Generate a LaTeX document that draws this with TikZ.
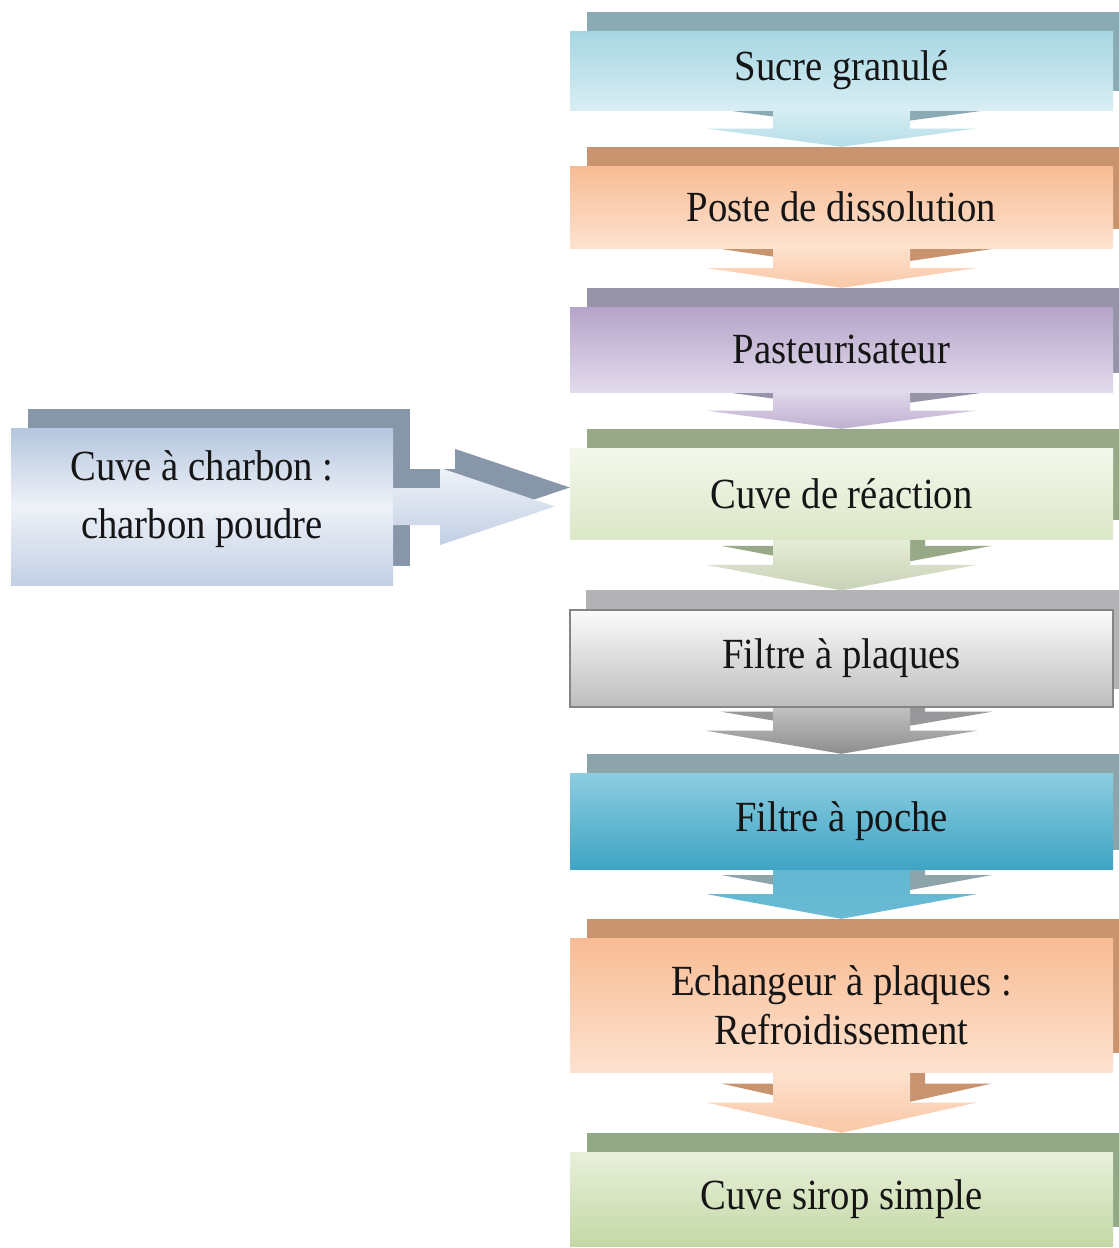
\documentclass[tikz,border=0pt]{standalone}
\usepackage{fontspec}
\setmainfont[FakeStretch=0.9]{Liberation Serif}
\usetikzlibrary{calc}
\pgfdeclarelayer{bg}
\pgfdeclarelayer{mid}
\pgfsetlayers{bg,mid,main}

\definecolor{txt}{HTML}{151515}
% stage 1 blue
\definecolor{aT}{HTML}{A6D6E2}\definecolor{aB}{HTML}{D8EEF4}\definecolor{aK}{HTML}{8AABB3}
% peach
\definecolor{pT}{HTML}{F8BC94}\definecolor{pB}{HTML}{FDE2CF}\definecolor{pK}{HTML}{C8946F}
% lavender
\definecolor{lT}{HTML}{B5A5CA}\definecolor{lB}{HTML}{E2DAEC}\definecolor{lK}{HTML}{9794A8}
% light green
\definecolor{gT}{HTML}{F4F8EC}\definecolor{gB}{HTML}{DCE7C8}\definecolor{gK}{HTML}{98A987}
% grey
\definecolor{yT}{HTML}{FBFBFB}\definecolor{yB}{HTML}{BDBDBD}\definecolor{yK}{HTML}{B3B3B6}\definecolor{yL}{HTML}{858585}
% teal
\definecolor{tT}{HTML}{8CCDE0}\definecolor{tB}{HTML}{3FA4C4}\definecolor{tK}{HTML}{8EA4AB}
% green
\definecolor{sT}{HTML}{E8F0DA}\definecolor{sB}{HTML}{C4D8A6}\definecolor{sK}{HTML}{92A886}
% left blue-grey
\definecolor{cT}{HTML}{B5C6DE}\definecolor{cM}{HTML}{EEF2F8}\definecolor{cB}{HTML}{C2CFE4}\definecolor{cK}{HTML}{8796A8}

\tikzset{
  stage/.style={minimum width=543pt, inner sep=0pt, text=txt, align=center,
    font=\fontsize{43}{49}\selectfont},
  sidebox/.style={minimum width=382pt, minimum height=157pt, inner sep=0pt},
  sidetext/.style={inner sep=0pt, text=txt, align=center, font=\fontsize{43}{58}\selectfont},
}

% back (extruded) rectangle of a box
\newcommand\backbox[2]{%
  \fill[#2] ([xshift=17pt,yshift=19pt]#1.north west) rectangle ([xshift=17pt,yshift=19pt]#1.south east);}

% vertical block arrow from node #1 to node #2, style #3, offset #4,#5
\newcommand\vshape[5]{%
  \path[#3] let \p1=(#1.south), \p2=([yshift=19pt]#2.north) in
    (\x1-68.5pt+#4,\y1+2pt+#5) -- (\x1+68.5pt+#4,\y1+2pt+#5)
    -- (\x1+68.5pt+#4,{(\y1+\y2)/2+#5}) -- (\x1+135.5pt+#4,{(\y1+\y2)/2+#5})
    -- (\x1+#4,\y2+#5)
    -- (\x1-135.5pt+#4,{(\y1+\y2)/2+#5}) -- (\x1-68.5pt+#4,{(\y1+\y2)/2+#5}) -- cycle;}

% horizontal block arrow from node #1 to node #2
\newcommand\hshape[5]{%
  \path[#3] let \p1=(#1.east), \p2=([xshift=-15pt]#2.west) in
    (\x1-2pt+#4,\y1+18.5pt+#5) -- (\x1+47pt+#4,\y1+18.5pt+#5)
    -- (\x1+47pt+#4,\y1+38.5pt+#5) -- (\x2+#4,\y1+#5)
    -- (\x1+47pt+#4,\y1-38.5pt+#5) -- (\x1+47pt+#4,\y1-18.5pt+#5)
    -- (\x1-2pt+#4,\y1-18.5pt+#5) -- cycle;}

\begin{document}
\begin{tikzpicture}[x=1pt,y=-1pt]
\useasboundingbox (0,0) rectangle (1119,1248);
\clip (0,0) rectangle (1119,1248);

% front boxes
\node[stage, minimum height=79pt, top color=aT, bottom color=aB] (b1) at (841.5,70.5) {Sucre granulé};
\node[stage, minimum height=82pt, top color=pT, bottom color=pB] (b2) at (841.5,207) {Poste de dissolution};
\node[stage, minimum height=85pt, top color=lT, bottom color=lB] (b3) at (841.5,349.5) {Pasteurisateur};
\node[stage, minimum height=91pt, top color=gT, bottom color=gB] (b4) at (841.5,493.5) {Cuve de réaction};
\node[stage, minimum height=97pt, top color=yT, bottom color=yB, draw=yL, line width=1.2pt] (b5) at (841.5,658.5) {Filtre à plaques};
\node[stage, minimum height=96pt, top color=tT, bottom color=tB] (b6) at (841.5,821) {Filtre à poche};
\node[stage, minimum height=134pt, top color=pT, bottom color=pB] (b7) at (841.5,1005) {Echangeur à plaques :\\Refroidissement};
\node[stage, minimum height=94pt, top color=sT, bottom color=sB] (b8) at (841.5,1199) {Cuve sirop simple};
\node[sidebox, top color=cT, bottom color=cB, middle color=cM] (L) at (202,506.5) {};
\node[sidetext] (Ltxt) at ([yshift=7pt]L.center) {Cuve à charbon :\\charbon poudre};

% extruded backs
\begin{pgfonlayer}{bg}
\fill[white] (0,0) rectangle (1119,1248);
\backbox{b1}{aK}
\backbox{b2}{pK}
\backbox{b3}{lK}
\backbox{b4}{gK}
\backbox{b5}{yK}
\backbox{b6}{tK}
\backbox{b7}{pK}
\backbox{b8}{sK}
\backbox{L}{cK}
\vshape{b1}{b2}{fill=aK}{15pt}{19pt}
\vshape{b2}{b3}{fill=pK}{15pt}{19pt}
\vshape{b3}{b4}{fill=lK}{15pt}{19pt}
\vshape{b4}{b5}{fill=gK}{15pt}{19pt}
\vshape{b5}{b6}{fill=yK!85!black}{15pt}{19pt}
\vshape{b6}{b7}{fill=tK}{15pt}{19pt}
\vshape{b7}{b8}{fill=pK}{15pt}{19pt}
\hshape{L}{b4}{fill=cK}{15pt}{19pt}
\end{pgfonlayer}

% front arrows
\begin{pgfonlayer}{mid}
\vshape{b1}{b2}{top color=aB, bottom color=aT!70!aB}{0pt}{0pt}
\vshape{b2}{b3}{top color=pB, bottom color=pT!70!pB}{0pt}{0pt}
\vshape{b3}{b4}{top color=lB, bottom color=lT!80!lB}{0pt}{0pt}
\vshape{b4}{b5}{top color=gB!60!gT, bottom color=gB!90!black!95}{0pt}{0pt}
\vshape{b5}{b6}{top color=yB!90!white, bottom color=yB!75!black}{0pt}{0pt}
\vshape{b6}{b7}{top color=tB!55!tT, bottom color=tB!45!tT}{0pt}{0pt}
\vshape{b7}{b8}{top color=pB, bottom color=pT!70!pB}{0pt}{0pt}
\hshape{L}{b4}{top color=cM, bottom color=cB}{0pt}{0pt}
\end{pgfonlayer}
\end{tikzpicture}
\end{document}
